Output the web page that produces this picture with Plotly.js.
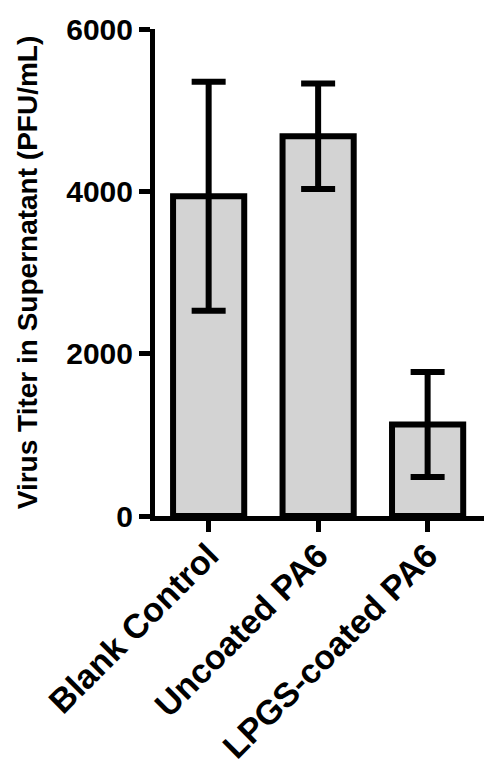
<!DOCTYPE html>
<html>
<head>
<meta charset="utf-8">
<script src="https://cdn.plot.ly/plotly-3.0.1.min.js"></script>
<style>
html,body{margin:0;padding:0;background:#fff;}
#chart{width:484px;height:777px;}
</style>
</head>
<body>
<div id="chart"></div>
<script>
const categories = ['Blank Control', 'Uncoated PA6', 'LPGS-coated PA6'];
const meanTiter = [3940, 4680, 1127];
const errTiter = [1410, 650, 647];
const yTickVals = [0, 2000, 4000, 6000];
const yTickText = ['0', '2000', '4000', '6000'];

const fontFamily = 'Liberation Sans, Arial, sans-serif';

const trace = {
  type: 'bar',
  x: categories,
  y: meanTiter,
  width: 0.65,
  marker: { color: '#d3d3d3', line: { color: '#000', width: 6 } },
  error_y: { type: 'data', array: errTiter, visible: true, color: '#000', thickness: 6, width: 17 },
  hoverinfo: 'none'
};

const layout = {
  width: 484,
  height: 777,
  margin: { l: 155, r: 0, t: 29, b: 261 },
  paper_bgcolor: '#fff',
  plot_bgcolor: '#fff',
  showlegend: false,
  font: { family: fontFamily, color: '#000', weight: 700 },
  xaxis: {
    type: 'category',
    range: [-0.49, 2.515],
    showgrid: false,
    zeroline: false,
    showline: true,
    linecolor: '#000',
    linewidth: 5,
    ticks: 'outside',
    ticklen: 11,
    tickwidth: 5,
    tickcolor: '#000',
    tickangle: -45,
    ticklabelstandoff: -10,
    tickfont: { family: fontFamily, size: 34, color: '#000', weight: 700 }
  },
  yaxis: {
    range: [0, 6000],
    tickvals: yTickVals,
    ticktext: yTickText,
    showgrid: false,
    zeroline: false,
    showline: true,
    linecolor: '#000',
    linewidth: 5,
    ticks: 'outside',
    ticklen: 11,
    tickwidth: 5,
    tickcolor: '#000',
    tickfont: { family: fontFamily, size: 30, color: '#000', weight: 700 },
    title: { text: 'Virus Titer in Supernatant (PFU/mL)', font: { family: fontFamily, size: 28, color: '#000', weight: 700 }, standoff: 22 }
  }
};

Plotly.newPlot('chart', [trace], layout, { staticPlot: true, displayModeBar: false });
</script>
</body>
</html>
